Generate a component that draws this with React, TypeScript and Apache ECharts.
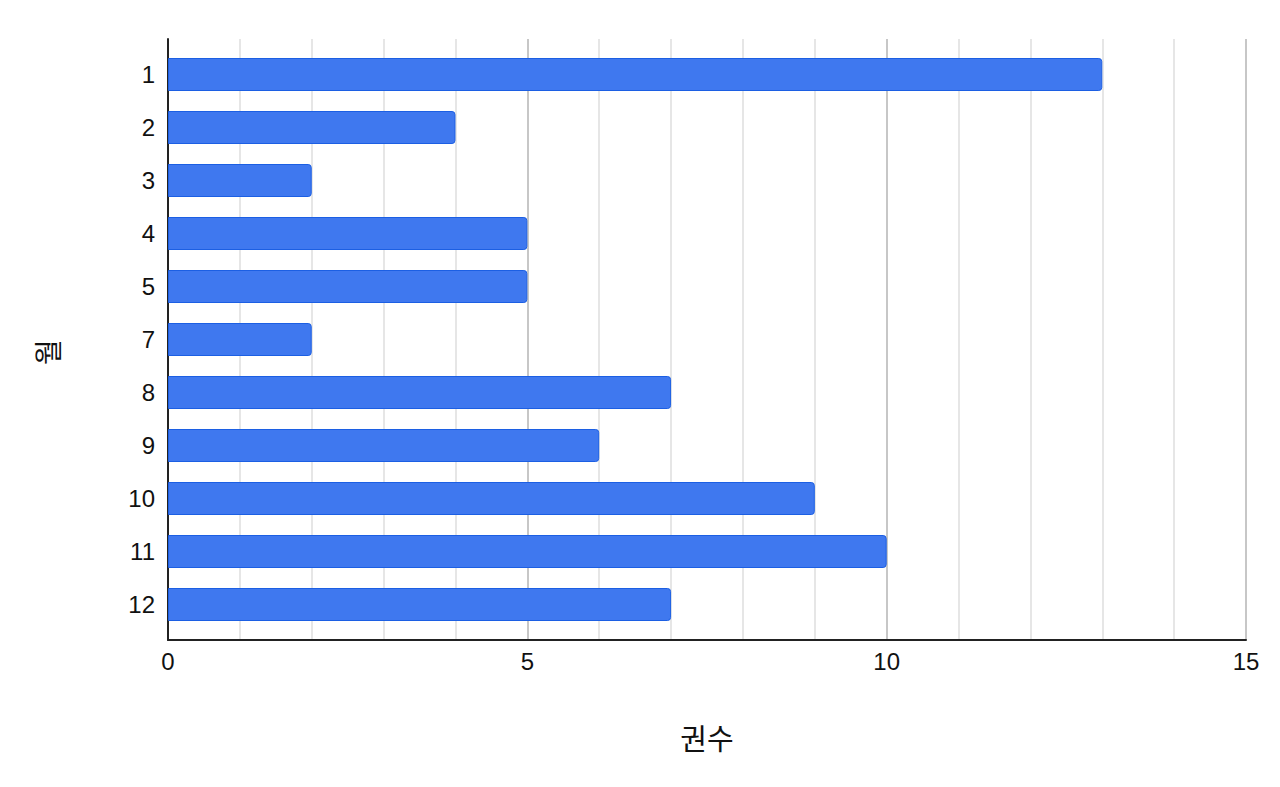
import React, { useRef, useEffect } from 'react';
import * as echarts from 'echarts';

const months = ['1', '2', '3', '4', '5', '7', '8', '9', '10', '11', '12'];
const bookCounts = [13, 4, 2, 5, 5, 2, 7, 6, 9, 10, 7];
const xMin = 0;
const xMax = 15;
const xStep = 5;

const FONT = '"Liberation Sans", Arial, sans-serif';
const CJK = '"Noto Sans CJK KR", "Liberation Sans", sans-serif';

const App: React.FC = () => {
  const chartRef = useRef<HTMLDivElement>(null);

  useEffect(() => {
    document.body.style.margin = '0';
    if (!chartRef.current) return;
    const chart = echarts.init(chartRef.current, undefined, { renderer: 'svg' });

    const option = {
      animation: false,
      backgroundColor: '#ffffff',
      grid: [
        // bars
        { left: 168, right: 34, top: 48, bottom: 156 },
        // frame: gridlines and axis lines
        { left: 168, right: 34, top: 39, bottom: 147 },
      ],
      // y axis title sits a little below the plot's middle in the original
      graphic: [
        {
          type: 'text',
          x: 47,
          y: 352,
          rotation: Math.PI / 2,
          style: {
            text: '월',
            fontFamily: CJK,
            fontSize: 28,
            fill: '#111',
            align: 'center',
            verticalAlign: 'middle',
          },
        },
      ],
      xAxis: [
        {
          gridIndex: 0,
          type: 'value',
          min: xMin,
          max: xMax,
          show: false,
        },
        {
          gridIndex: 1,
          type: 'value',
          min: xMin,
          max: xMax,
          interval: xStep,
          name: '권수',
          nameLocation: 'middle',
          nameGap: 82,
          nameTextStyle: { fontFamily: CJK, fontSize: 29, color: '#111' },
          axisLine: { show: true, lineStyle: { color: '#222', width: 2 } },
          axisTick: { show: false },
          axisLabel: {
            fontFamily: FONT,
            fontSize: 24,
            color: '#111',
            margin: 9,
          },
          splitLine: { show: true, lineStyle: { color: '#b4b4b4', width: 1.5 } },
          minorTick: { show: false, splitNumber: 5 },
          minorSplitLine: { show: true, lineStyle: { color: '#dedede', width: 1.5 } },
        },
      ],
      yAxis: [
        {
          gridIndex: 0,
          type: 'category',
          data: months,
          inverse: true,
          axisLine: { show: false },
          axisTick: { show: false },
          axisLabel: {
            fontFamily: FONT,
            fontSize: 24,
            color: '#111',
            margin: 13,
          },
          splitLine: { show: false },
        },
        {
          gridIndex: 1,
          type: 'value',
          min: 0,
          max: 1,
          axisLine: { show: true, lineStyle: { color: '#222', width: 2 } },
          axisTick: { show: false },
          axisLabel: { show: false },
          splitLine: { show: false },
        },
      ],
      series: [
        {
          type: 'bar',
          xAxisIndex: 0,
          yAxisIndex: 0,
          data: bookCounts,
          barWidth: 33,
          z: 3,
          itemStyle: {
            color: '#3f78ef',
            borderColor: '#1c5fe3',
            borderWidth: 1,
            borderRadius: [0, 3, 3, 0],
          },
        },
      ],
    };

    chart.setOption(option);
    return () => {
      chart.dispose();
    };
  }, []);

  return <div ref={chartRef} style={{ width: 1280, height: 787 }} />;
};

export default App;
